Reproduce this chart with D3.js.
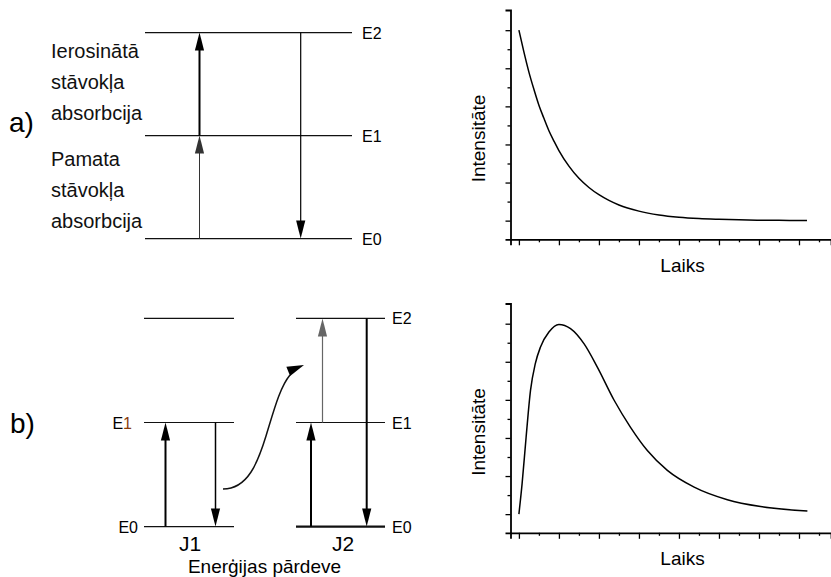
<!DOCTYPE html>
<html>
<head>
<meta charset="utf-8">
<script src="https://cdn.jsdelivr.net/npm/d3@7"></script>
<style>
  body { margin: 0; background: #fff; }
  svg { display: block; font-family: Arial, "Liberation Sans", sans-serif; }
  .axis path, .axis line { stroke: #000; }
</style>
</head>
<body>
<svg id="chart" width="831" height="577"></svg>
<script>
// energy levels (0 = E0, 1 = E1, 2 = E2)
var levelNames = ["E0", "E1", "E2"];
var textExcited = ["Ierosinātā", "stāvokļa", "absorbcija"];
var textGround = ["Pamata", "stāvokļa", "absorbcija"];

// transitions [from, to]
var transA = [[0, 1], [1, 2], [2, 0]];
var transJ1 = [[0, 1], [1, 0]];
var transJ2 = [[0, 1], [1, 2], [2, 0]];

// decay curves (time, intensity)
var decayT = [0, 0.12, 0.25, 0.38, 0.5, 0.62, 0.75, 0.88, 1, 1.25, 1.5, 1.75, 2, 2.25, 2.5, 3, 3.5, 4, 4.5, 5, 5.5, 6, 6.5, 7, 7.2];
var decayI = [5, 4.45, 3.9, 3.43, 3.03, 2.7, 2.36, 2.08, 1.84, 1.43, 1.11, 0.87, 0.68, 0.53, 0.41, 0.25, 0.15, 0.09, 0.055, 0.035, 0.02, 0.012, 0.007, 0.004, 0.003];

var riseT = [0, 0.08, 0.18, 0.29, 0.41, 0.54, 0.75, 1, 1.29, 1.63, 1.96, 2.38, 2.79, 3.21, 3.71, 4.38, 5.21, 6.04, 7.21];
var riseI = [0, 0.8, 2.02, 3.25, 3.95, 4.39, 4.78, 4.98, 4.87, 4.47, 3.86, 2.99, 2.28, 1.67, 1.15, 0.71, 0.38, 0.2, 0.08];

var svg = d3.select('#chart');

function arrowHead(g, tipX, tipY, dx, dy, len, half, color) {
    var l = Math.sqrt(dx * dx + dy * dy);
    var ux = dx / l, uy = dy / l;
    var bx = tipX - ux * len, by = tipY - uy * len;
    g.append('path')
     .attr('d', 'M' + tipX + ',' + tipY +
                'L' + (bx - uy * half) + ',' + (by + ux * half) +
                'L' + (bx + uy * half) + ',' + (by - ux * half) + 'Z')
     .style('fill', color);
}

function vArrow(g, x, yFrom, yTo, w, color) {
    var dir = yTo < yFrom ? -1 : 1;
    g.append('line')
     .attr('x1', x).attr('x2', x)
     .attr('y1', yFrom).attr('y2', yTo - dir * 12)
     .style('stroke', color)
     .style('stroke-width', w);
    arrowHead(g, x, yTo, 0, dir, 18, 4.6, color);
}

function levels(g, y, x1, x2, idx, w) {
    g.selectAll(null)
     .data(idx)
     .enter()
     .append('line')
     .attr('x1', x1).attr('x2', x2)
     .attr('y1', d => y(d)).attr('y2', d => y(d))
     .style('stroke', '#111')
     .style('stroke-width', d => (w && w[d]) || 1.2);
}

// ---------- panel a ----------
var gA = svg.append('g');
var yA = d3.scaleLinear().domain([0, 2]).range([238.6, 32.6]);
levels(gA, yA, 145, 352, [0, 1, 2]);

gA.selectAll('text.lvl')
  .data([0, 1, 2])
  .enter()
  .append('text')
  .attr('class', 'lvl')
  .attr('x', 362)
  .attr('y', d => yA(d) + 6)
  .style('font-size', '16px')
  .text(d => levelNames[d]);

var styleA = [{x: 199.5, w: 1, c: '#333'}, {x: 199.5, w: 2, c: '#000'}, {x: 300.7, w: 1.2, c: '#000'}];
transA.forEach(function (t, i) {
    vArrow(gA, styleA[i].x, yA(t[0]), yA(t[1]), styleA[i].w, styleA[i].c);
});

gA.selectAll('text.exc')
  .data(textExcited)
  .enter()
  .append('text')
  .attr('x', 51)
  .attr('y', (d, i) => 58 + i * 31)
  .style('font-size', '20px')
  .style('fill', '#111')
  .text(d => d);

gA.selectAll('text.gnd')
  .data(textGround)
  .enter()
  .append('text')
  .attr('x', 51)
  .attr('y', (d, i) => 166 + i * 31)
  .style('font-size', '20px')
  .style('fill', '#111')
  .text(d => d);

svg.append('text').attr('x', 9).attr('y', 132).style('font-size', '28px').text('a)');
svg.append('text').attr('x', 10).attr('y', 433).style('font-size', '28px').text('b)');

// ---------- panel b ----------
var gB = svg.append('g');
var yB = d3.scaleLinear().domain([0, 2]).range([526.6, 318.4]);
levels(gB, yB, 144, 234, [0, 1, 2]);
levels(gB, yB, 296, 385, [0, 1, 2], [2.2, 1.2, 1.2]);

// J1 labels (left)
var e1 = gB.append('text').attr('x', 132).attr('y', yB(1) + 6)
  .attr('text-anchor', 'end').style('font-size', '16px');
e1.append('tspan').text('E');
e1.append('tspan').style('fill', '#8a3c0c').text('1');
gB.append('text').attr('x', 138).attr('y', yB(0) + 6)
  .attr('text-anchor', 'end').style('font-size', '16px').text(levelNames[0]);

// J2 labels (right)
gB.selectAll('text.lvl2')
  .data([0, 1, 2])
  .enter()
  .append('text')
  .attr('x', 392)
  .attr('y', d => yB(d) + 6)
  .style('font-size', '16px')
  .text(d => levelNames[d]);

var styleJ1 = [{x: 165.5, w: 2, c: '#000'}, {x: 215.5, w: 1.5, c: '#000'}];
transJ1.forEach(function (t, i) {
    vArrow(gB, styleJ1[i].x, yB(t[0]), yB(t[1]), styleJ1[i].w, styleJ1[i].c);
});
var styleJ2 = [{x: 311, w: 2, c: '#000'}, {x: 322.5, w: 1.2, c: '#666'}, {x: 366.7, w: 2, c: '#000'}];
transJ2.forEach(function (t, i) {
    vArrow(gB, styleJ2[i].x, yB(t[0]), yB(t[1]), styleJ2[i].w, styleJ2[i].c);
});

// energy transfer arrow
gB.append('path')
  .attr('d', 'M223,489 C248,489 258,462 266,436 C274,410 280,387 290,375')
  .style('fill', 'none')
  .style('stroke', '#111')
  .style('stroke-width', 1.5);
arrowHead(gB, 304, 365, 16, -6.5, 17, 5, '#000');

gB.append('text').attr('x', 190).attr('y', 551).attr('text-anchor', 'middle')
  .style('font-size', '21px').text('J1');
gB.append('text').attr('x', 343).attr('y', 551).attr('text-anchor', 'middle')
  .style('font-size', '21px').text('J2');
gB.append('text').attr('x', 264.5).attr('y', 573).attr('text-anchor', 'middle')
  .style('font-size', '19px').text('Enerģijas pārdeve');

// ---------- intensity charts ----------
function intensityChart(top, tData, iData) {
    var g = svg.append('g');
    var x = d3.scaleLinear().domain([-0.21, 7.8]).range([510.5, 831]);
    var y = d3.scaleLinear().domain([-0.49, 5.53]).range([top + 229.3, top]);

    var ax = g.append('g').attr('class', 'axis')
      .attr('transform', 'translate(0,' + (top + 229.3) + ')');
    ax.call(d3.axisBottom(x).tickValues(d3.range(0, 8, 0.5)).tickFormat('').tickSizeOuter(0)
              .tickSize(6));
    ax.selectAll('.tick line')
      .attr('y2', d => (d % 1 === 0 ? 6 : 3))
      .style('stroke-width', 1.3);
    ax.select('.domain').style('stroke-width', 1.8);

    var ay = g.append('g').attr('class', 'axis')
      .attr('transform', 'translate(510.5,0)');
    ay.call(d3.axisLeft(y).tickValues(d3.range(0, 5.5, 0.5)).tickFormat('').tickSizeOuter(0)
              .tickSize(5));
    ay.selectAll('.tick line')
      .attr('x2', d => (d % 1 === 0 ? -5 : -3))
      .style('stroke-width', 1.3);
    ay.select('.domain').style('stroke-width', 1.8);

    var pts = tData.map((t, i) => [t, iData[i]]);
    g.append('path')
     .datum(pts)
     .attr('d', d3.line().x(d => x(d[0])).y(d => y(d[1])).curve(d3.curveMonotoneX))
     .style('fill', 'none')
     .style('stroke', '#000')
     .style('stroke-width', 1.5);

    g.append('text')
     .attr('transform', 'translate(485,' + (top + 128.5) + ') rotate(-90)')
     .attr('text-anchor', 'middle')
     .style('font-size', '19px')
     .text('Intensitāte');
    g.append('text')
     .attr('x', 682.5).attr('y', top + 261.5)
     .attr('text-anchor', 'middle')
     .style('font-size', '19px')
     .text('Laiks');
}

intensityChart(10, decayT, decayI);
intensityChart(303.5, riseT, riseI);
</script>
</body>
</html>
